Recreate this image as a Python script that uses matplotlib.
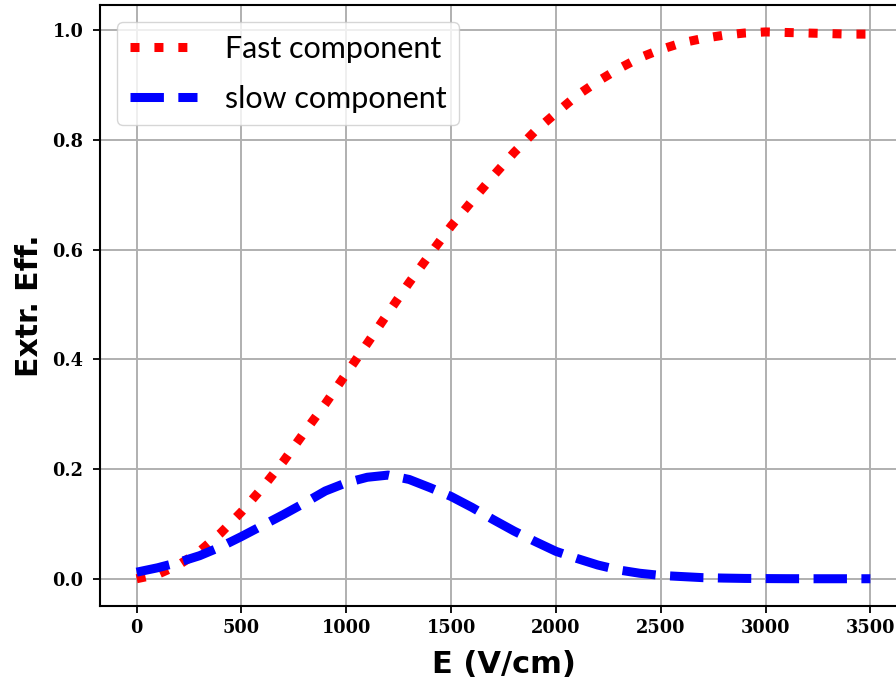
"""Extraction efficiency of fast and slow components vs drift field."""

import matplotlib

matplotlib.use("Agg")
import matplotlib.pyplot as plt

# drift field (V/cm)
field = [0, 100, 200, 300, 400, 500, 600, 700, 800, 900,
         1000, 1100, 1200, 1300, 1400, 1500, 1600, 1700, 1800, 1900,
         2000, 2100, 2200, 2300, 2400, 2500, 2600, 2700, 2800, 2900,
         3000, 3100, 3200, 3300, 3400, 3500]

fast_eff = [0.000, 0.008, 0.025, 0.050, 0.083, 0.122, 0.166, 0.214, 0.267, 0.319,
            0.374, 0.429, 0.485, 0.540, 0.592, 0.643, 0.689, 0.734, 0.777, 0.816,
            0.849, 0.881, 0.907, 0.930, 0.950, 0.965, 0.977, 0.985, 0.991, 0.995,
            0.997, 0.996, 0.995, 0.994, 0.993, 0.993]

slow_eff = [0.012, 0.020, 0.030, 0.042, 0.058, 0.077, 0.097, 0.117, 0.138, 0.160,
            0.175, 0.185, 0.189, 0.181, 0.166, 0.150, 0.130, 0.108, 0.087, 0.068,
            0.050, 0.037, 0.025, 0.016, 0.010, 0.006, 0.004, 0.002, 0.0012, 0.0006,
            0.0003, 0.0001, 0.0, 0.0, 0.0, 0.0]

xticks = [0, 500, 1000, 1500, 2000, 2500, 3000, 3500]
yticks = [0.0, 0.2, 0.4, 0.6, 0.8, 1.0]

fig = plt.figure(figsize=(8.96, 6.86), dpi=100)
ax = fig.add_axes([0.1116, 0.1165, 0.9007, 0.8768])

ax.plot(field, fast_eff, color="red", linestyle=":", linewidth=6.5,
        label="Fast component")
ax.plot(field, slow_eff, color="blue", linestyle="--", linewidth=6.5,
        label="slow component")

ax.grid(True, color="#b0b0b0", linewidth=1.4)
ax.set_axisbelow(True)
ax.set_xticks(xticks)
ax.set_yticks(yticks)
ax.set_xticklabels([str(t) for t in xticks])
ax.set_yticklabels([f"{t:.1f}" for t in yticks])
ax.tick_params(length=5, width=1.3, labelsize=12.8)
ax.tick_params(axis="x", pad=4.5)
ax.tick_params(axis="y", pad=7)
for lab in ax.get_xticklabels() + ax.get_yticklabels():
    lab.set_family("DejaVu Serif")
    lab.set_fontweight("bold")
for sp in ax.spines.values():
    sp.set_linewidth(1.5)

ax.set_xlabel("E (V/cm)", fontsize=22, fontweight="bold", family="DejaVu Sans",
              labelpad=9)
ax.set_ylabel("Extr. Eff.", fontsize=21.5, fontweight="bold", family="DejaVu Sans",
              labelpad=6)

ax.legend(loc="upper left", prop={"family": "Lato", "size": 22},
          handlelength=2.2, borderpad=0.42, labelspacing=0.72,
          handletextpad=0.9, borderaxespad=0.56, framealpha=0.8)

fig.savefig("out.png", dpi=100)
